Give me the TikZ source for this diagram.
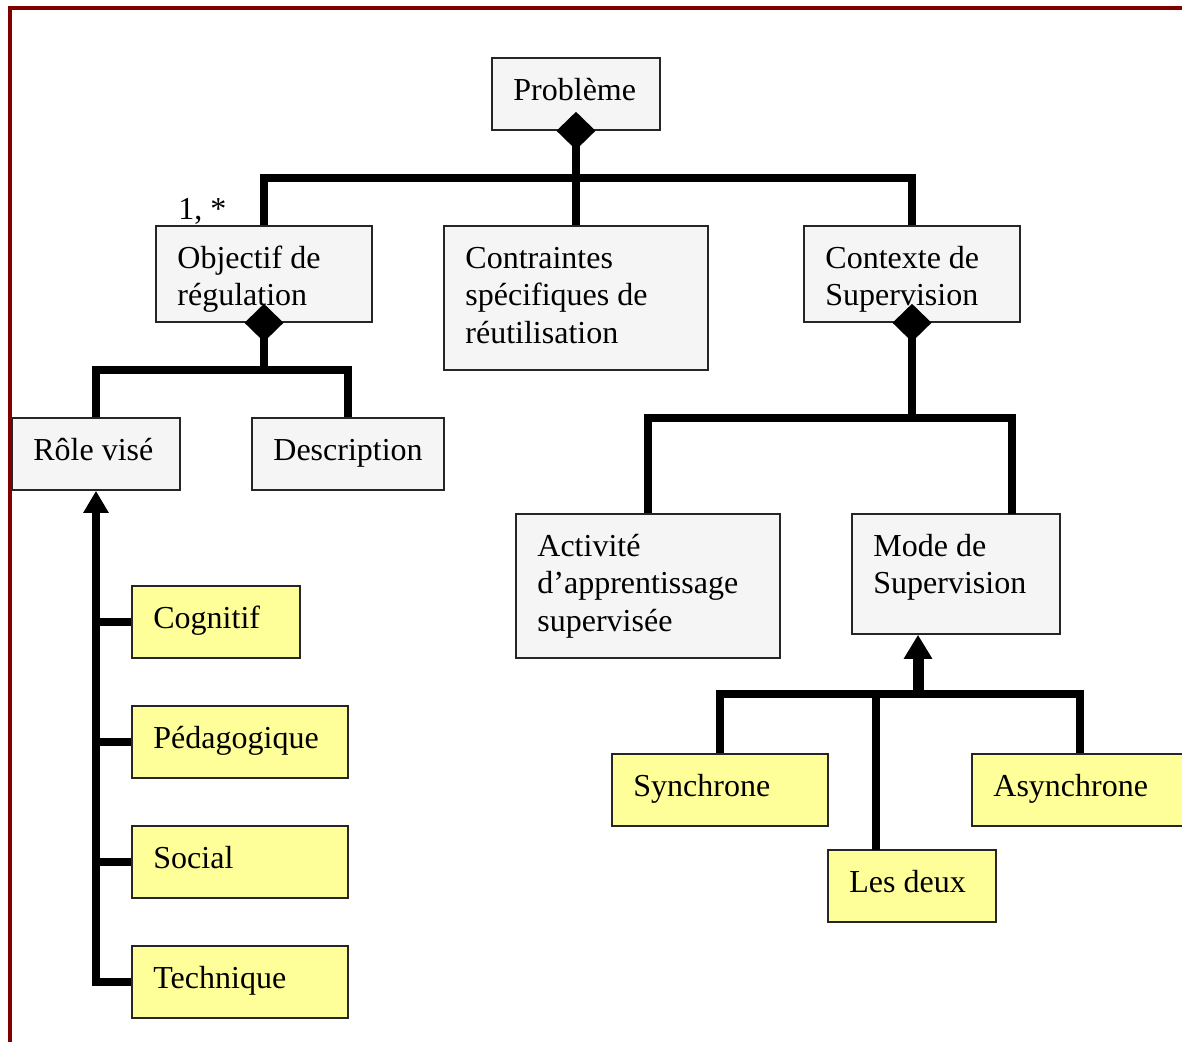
\documentclass[tikz,border=0pt]{standalone}
\usepackage{fontspec}
\setmainfont{Liberation Serif}
\usetikzlibrary{arrows.meta,shapes.geometric,fit,calc}
\definecolor{boxgray}{HTML}{F5F5F5}
\definecolor{boxyellow}{HTML}{FFFF99}
\definecolor{framered}{HTML}{800000}
\tikzset{
  boxstyle/.style={draw=black!85, line width=0.8pt, inner sep=0pt},
  txt/.style={anchor=north west, inner sep=0pt, align=left, font=\fontsize{16pt}{18.75pt}\selectfont},
  conn/.style={line width=3.8pt},
  dia/.style={diamond, fill=black, inner sep=0pt, outer sep=0pt, minimum width=19.5pt, minimum height=19pt},
  tip/.style={-{Triangle[width=12pt,length=11pt]}},
}
\newcommand{\umlbox}[7]{%
  \node[boxstyle, fill=#6, fit={(#2,#3) (#4,#5)}] (#1) {};
  \node[txt] (#1t) at (#2+21,#3+15.5) {\strut #7};
}
\begin{document}
\begin{tikzpicture}[x=0.5pt,y=-0.5pt]
\useasboundingbox (0,0) rectangle (1182,1041);
\draw[framered, line width=2pt] (10,1050) -- (10,8) -- (1195,8);

\umlbox{P}{492}{58}{660}{130}{boxgray}{Problème}
\umlbox{O}{156}{226}{372}{322}{boxgray}{Objectif de\\régulation}
\umlbox{C}{444}{226}{708}{370}{boxgray}{Contraintes\\spécifiques de\\réutilisation}
\umlbox{X}{804}{226}{1020}{322}{boxgray}{Contexte de\\Supervision}
\umlbox{R}{12}{418}{180}{490}{boxgray}{Rôle visé}
\umlbox{D}{252}{418}{444}{490}{boxgray}{Description}
\umlbox{A}{516}{514}{780}{658}{boxgray}{Activité\\d’apprentissage\\supervisée}
\umlbox{M}{852}{514}{1060}{634}{boxgray}{Mode de\\Supervision}
\umlbox{Co}{132}{586}{300}{658}{boxyellow}{Cognitif}
\umlbox{Pe}{132}{706}{348}{778}{boxyellow}{Pédagogique}
\umlbox{So}{132}{826}{348}{898}{boxyellow}{Social}
\umlbox{Te}{132}{946}{348}{1018}{boxyellow}{Technique}
\umlbox{Sy}{612}{754}{828}{826}{boxyellow}{Synchrone}
\umlbox{Ld}{828}{850}{996}{922}{boxyellow}{Les deux}
\umlbox{As}{972}{754}{1188}{826}{boxyellow}{Asynchrone}

\node[txt, anchor=base west] (mult) at (178,219) {1, *};

% composition: Probleme
\node[dia] (dP) at (P.south) {};
\coordinate (jP) at (576,178);
\draw[conn] (dP.center) -- (C.north);
\draw[conn] (O.north) |- (jP) -| (X.north);

% composition: Objectif
\node[dia] (dO) at (O.south) {};
\coordinate (jO) at (264,370);
\draw[conn] (dO.center) -- (jO);
\draw[conn] (R.north) |- (jO) -| (D.north);

% composition: Contexte
\node[dia] (dX) at (X.south) {};
\coordinate (jX) at (912,418);
\coordinate (Mt) at (1012,514);
\draw[conn] (dX.center) -- (jX);
\draw[conn] (A.north) |- (jX) -| (Mt);

% generalisation: Role vise
\draw[conn, tip] (Te.west) -| (R.south);
\draw[conn] (Co.west) -- (Co.west -| R.south);
\draw[conn] (Pe.west) -- (Pe.west -| R.south);
\draw[conn] (So.west) -- (So.west -| R.south);

% generalisation: Mode de Supervision
\coordinate (jM) at (918,697);
\coordinate (jB) at (918,694);
\coordinate (Lt) at (876,850);
\draw[conn] (Sy.north) |- (jB) -| (As.north);
\draw[conn] (Lt) |- (jB);
\draw[line width=5.5pt, -{Triangle[width=13.5pt,length=12pt]}] (jM) -- (M.south -| jM);
\end{tikzpicture}
\end{document}
